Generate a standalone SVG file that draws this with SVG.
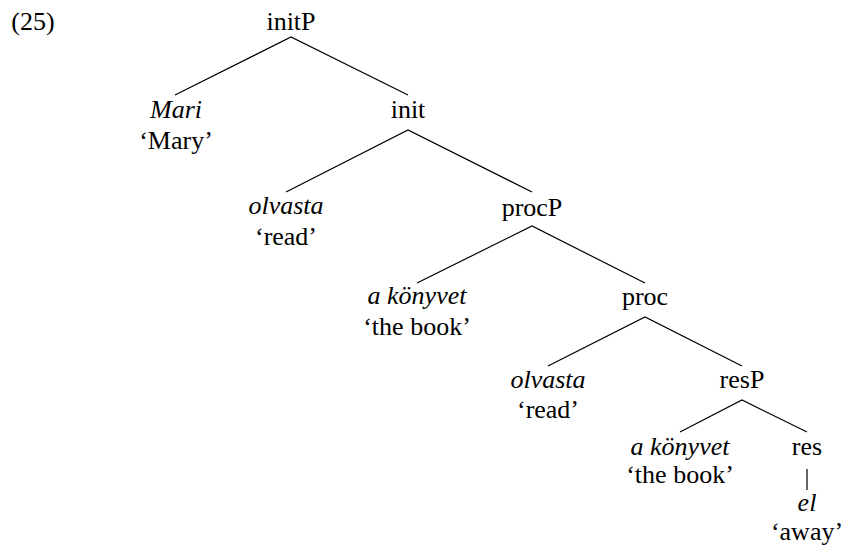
<svg xmlns="http://www.w3.org/2000/svg" width="843" height="551" viewBox="0 0 843 551">
<style>
text{font-family:"Liberation Serif","DejaVu Serif",serif;font-size:26px;fill:#000;text-anchor:middle}
.i{font-style:italic}
.e{stroke:#000;stroke-width:1.2;fill:none}
</style>
<rect width="843" height="551" fill="#fff"/>
<text x="33" y="30">(25)</text>
<g id="initP"><text x="291" y="30">initP</text></g>
<g id="mari"><text class="i" x="176" y="118">Mari</text><text x="176" y="149">‘Mary’</text></g>
<g id="init"><text x="408" y="118">init</text></g>
<g id="olvasta1"><text class="i" x="286" y="214">olvasta</text><text x="286" y="245">‘read’</text></g>
<g id="procP"><text x="532" y="216">procP</text></g>
<g id="konyvet1"><text class="i" x="417" y="304">a könyvet</text><text x="417" y="335">‘the book’</text></g>
<g id="proc"><text x="645" y="305">proc</text></g>
<g id="olvasta2"><text class="i" x="548" y="388">olvasta</text><text x="548" y="418">‘read’</text></g>
<g id="resP"><text x="742" y="388">resP</text></g>
<g id="konyvet2"><text class="i" x="680" y="455">a könyvet</text><text x="680" y="483">‘the book’</text></g>
<g id="res"><text x="807" y="455">res</text></g>
<g id="el"><text class="i" x="807" y="511">el</text><text x="807" y="540">‘away’</text></g>
<g id="connectors" class="e">
<path class="e" d="M175,95L291,37L408,95"/>
<path class="e" d="M286,192L408,130L532,192"/>
<path class="e" d="M417,283L532,226L645,283"/>
<path class="e" d="M548,366L645,317L742,366"/>
<path class="e" d="M680,432L742,400L807,432"/>
<path class="e" d="M807,469L807,490"/>
</g>
</svg>
